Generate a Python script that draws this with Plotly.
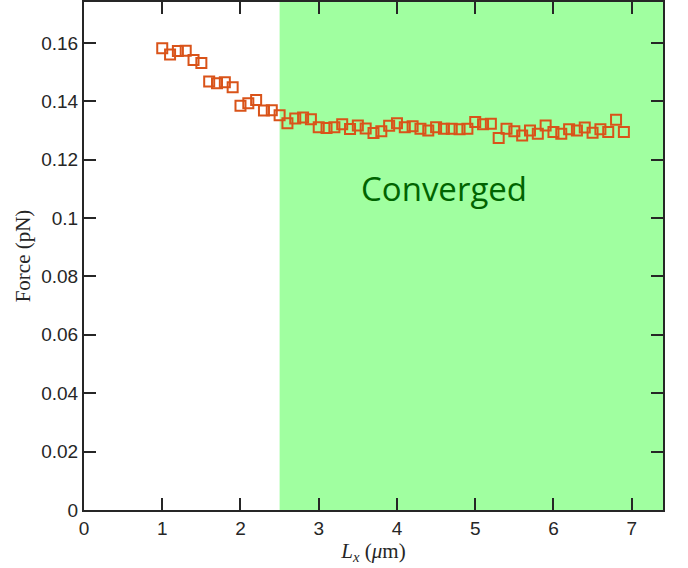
import plotly.graph_objects as go

# Data
lx = [1.0, 1.1, 1.2, 1.3, 1.4, 1.5, 1.6, 1.7, 1.8, 1.9,
      2.0, 2.1, 2.2, 2.3, 2.4, 2.5, 2.6, 2.7, 2.8, 2.9,
      3.0, 3.1, 3.2, 3.3, 3.4, 3.5, 3.6, 3.7, 3.8, 3.9,
      4.0, 4.1, 4.2, 4.3, 4.4, 4.5, 4.6, 4.7, 4.8, 4.9,
      5.0, 5.1, 5.2, 5.3, 5.4, 5.5, 5.6, 5.7, 5.8, 5.9,
      6.0, 6.1, 6.2, 6.3, 6.4, 6.5, 6.6, 6.7, 6.8, 6.9]
force = [0.1582, 0.1560, 0.1572, 0.1573, 0.1541, 0.1531, 0.1468, 0.1462, 0.1465, 0.1448,
         0.1385, 0.1393, 0.1404, 0.1368, 0.1369, 0.1352, 0.1325, 0.1341, 0.1344, 0.1338,
         0.1311, 0.1308, 0.1311, 0.1321, 0.1305, 0.1317, 0.1307, 0.1291, 0.1297, 0.1316,
         0.1325, 0.1311, 0.1314, 0.1306, 0.1300, 0.1311, 0.1306, 0.1306, 0.1304, 0.1306,
         0.1329, 0.1321, 0.1323, 0.1274, 0.1306, 0.1297, 0.1283, 0.1300, 0.1289, 0.1317,
         0.1295, 0.1289, 0.1304, 0.1300, 0.1310, 0.1292, 0.1304, 0.1295, 0.1337, 0.1295]

x_ticks = [0, 1, 2, 3, 4, 5, 6, 7]
x_ticklabels = ["0", "1", "2", "3", "4", "5", "6", "7"]
y_ticks = [0, 0.02, 0.04, 0.06, 0.08, 0.10, 0.12, 0.14, 0.16]
y_ticklabels = ["0", "0.02", "0.04", "0.06", "0.08", "0.1", "0.12", "0.14", "0.16"]
x_range = [0, 7.4]
y_range = [0, 0.174]
converged_start = 2.5
label_text = "Converged"
label_pos = (4.6, 0.110)

axis_color = "#262626"
tick_font = dict(family="Liberation Sans, Arial, sans-serif", size=19, color=axis_color)

fig = go.Figure()
fig.add_trace(go.Scatter(
    x=lx, y=force, mode="markers",
    marker=dict(symbol="square-open", size=10, color="#D95319",
                line=dict(width=2, color="#D95319")),
    showlegend=False,
))

fig.add_shape(type="rect", xref="x", yref="y",
              x0=converged_start, x1=x_range[1], y0=y_range[0], y1=y_range[1],
              fillcolor="#A0FFA0", line=dict(width=0), layer="below")

fig.add_annotation(x=label_pos[0], y=label_pos[1], text=label_text, showarrow=False,
                   font=dict(family="Open Sans, sans-serif", size=33, color="#006400"))

common = dict(showline=True, linecolor=axis_color, linewidth=2, mirror="ticks",
              ticks="inside", ticklen=12, tickwidth=1.5, tickcolor=axis_color,
              showgrid=False, zeroline=False, tickfont=tick_font, automargin=False)

fig.update_xaxes(range=x_range, tickvals=x_ticks, ticktext=x_ticklabels,
                 title=dict(text="<i>L</i><sub><i>x</i></sub> (<i>μ</i>m)",
                            font=dict(family="Liberation Serif, Times New Roman, serif", size=21, color=axis_color),
                            standoff=5),
                 **common)
fig.update_yaxes(range=y_range, tickvals=y_ticks, ticktext=y_ticklabels,
                 title=dict(text="Force (pN)",
                            font=dict(family="Liberation Serif, Times New Roman, serif", size=21, color=axis_color),
                            standoff=5),
                 **common)

fig.update_layout(width=688, height=568, margin=dict(l=84, r=25, t=2, b=58),
                  paper_bgcolor="white", plot_bgcolor="white", template="none")

fig.write_html("out.html", config={"displayModeBar": False},
               post_script="document.body.style.margin='0';document.body.style.padding='0';")
